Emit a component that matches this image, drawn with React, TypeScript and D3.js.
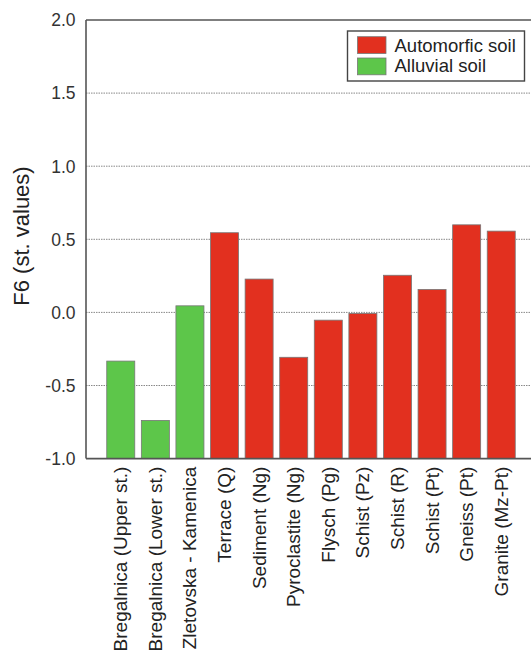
import React from "react";
import * as d3 from "d3";

const categories = [
  "Bregalnica (Upper st.)",
  "Bregalnica (Lower st.)",
  "Zletovska - Kamenica",
  "Terrace (Q)",
  "Sediment (Ng)",
  "Pyroclastite (Ng)",
  "Flysch (Pg)",
  "Schist (Pz)",
  "Schist (R)",
  "Schist (Pt)",
  "Gneiss (Pt)",
  "Granite (Mz-Pt)",
];
const values = [-0.333, -0.739, 0.045, 0.545, 0.228, -0.307, -0.053, -0.007, 0.254, 0.157, 0.599, 0.556];
const soilType = ["Alluvial", "Alluvial", "Alluvial", "Automorfic", "Automorfic", "Automorfic", "Automorfic", "Automorfic", "Automorfic", "Automorfic", "Automorfic", "Automorfic"];
const yTicks = [-1.0, -0.5, 0.0, 0.5, 1.0, 1.5, 2.0];
const legendItems = [
  { key: "Automorfic", label: "Automorfic soil" },
  { key: "Alluvial", label: "Alluvial soil" },
];

const colors: Record<string, string> = { Automorfic: "#e2301f", Alluvial: "#5dc64a" };

export default function App() {
  const W = 531, H = 655;
  const left = 86, right = 536, top = 20, bottom = 458.6;
  const x = d3.scaleBand<string>().domain(categories).range([left, right]).paddingInner(0.19).paddingOuter(0.6);
  const y = d3.scaleLinear().domain([-1, 2]).range([bottom, top]);
  const font = "Arial, 'Liberation Sans', Helvetica, sans-serif";
  const axisColor = "#555";
  return (
    <svg width={W} height={H} style={{ position: "absolute", left: 0, top: 0, background: "#fff" }} fontFamily={font}>
      {yTicks.filter(t => t > -1 && t < 2).map(t => (
        <line key={t} x1={left} x2={right} y1={y(t)} y2={y(t)} stroke="#888" strokeWidth={1} strokeDasharray="1.5,1" />
      ))}
      {categories.map((c, i) => {
        const base = y(-1);
        const topY = y(values[i]);
        return (
          <rect key={c} x={x(c)} width={x.bandwidth()} y={topY} height={base - topY}
            fill={colors[soilType[i]]} stroke="#777" strokeWidth={0.8} />
        );
      })}
      <line x1={left} x2={left} y1={top} y2={bottom} stroke={axisColor} strokeWidth={1.6} />
      <line x1={left} x2={right} y1={bottom} y2={bottom} stroke={axisColor} strokeWidth={1.6} />
      <line x1={left} x2={right} y1={top} y2={top} stroke={axisColor} strokeWidth={1.6} />
      {yTicks.map(t => (
        <text key={t} x={left - 10.5} y={y(t)} dy="0.36em" textAnchor="end" fontSize={17.5} fill="#333">
          {t.toFixed(1)}
        </text>
      ))}
      <text transform={`translate(29,236) rotate(-90)`} textAnchor="middle" fontSize={22} fill="#222">
        F6 (st. values)
      </text>
      {categories.map(c => (
        <text key={c} transform={`translate(${(x(c) as number) + x.bandwidth() / 2 + 6.5},${bottom + 8}) rotate(-90)`}
          textAnchor="end" fontSize={19} fill="#222">
          {c}
        </text>
      ))}
      <rect x={347.5} y={31} width={177} height={50} fill="#fff" stroke="#444" strokeWidth={1.4} />
      {legendItems.map((it, i) => (
        <g key={it.key}>
          <rect x={357.5} y={36.7 + i * 21.3} width={28.5} height={16.8} fill={colors[it.key]} stroke="#777" strokeWidth={0.8} />
          <text x={394.5} y={51.5 + i * 20.5} fontSize={18.5} fill="#222">{it.label}</text>
        </g>
      ))}
    </svg>
  );
}
